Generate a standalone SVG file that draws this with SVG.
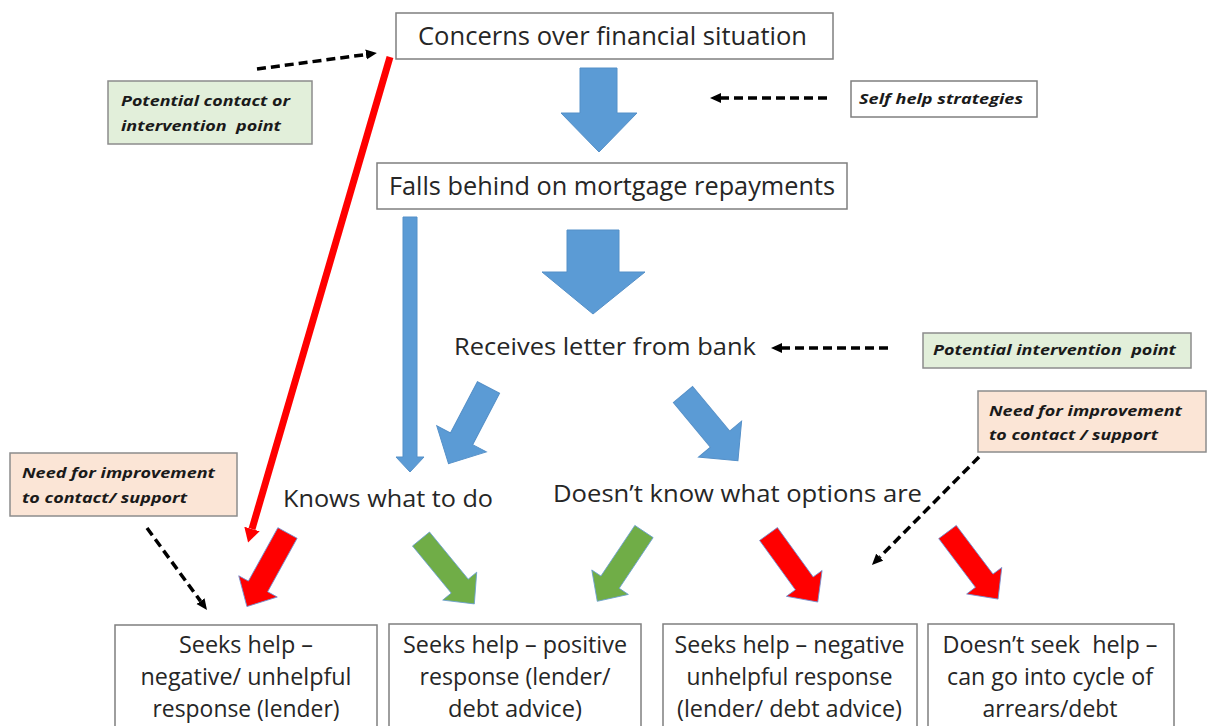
<svg xmlns="http://www.w3.org/2000/svg" width="1213" height="726" viewBox="0 0 1213 726">
<style>
.box{fill:#ffffff;stroke:#7f7f7f;stroke-width:1.5}
.green{fill:#e2efda;stroke:#8c8c8c;stroke-width:1.5}
.peach{fill:#fbe5d6;stroke:#8c8c8c;stroke-width:1.5}
.t{font-family:"Open Sans","Liberation Sans",sans-serif;fill:#262626}
.big{font-size:25px}
.mid{font-size:24px}
.bot{font-size:23px;text-anchor:middle}
.note{font-family:"Open Sans","Liberation Sans",sans-serif;font-size:15px;font-weight:bold;font-style:italic;fill:#1a1a1a}
.blue{fill:#5b9bd5;stroke:#5590c8;stroke-width:1}
.grn{fill:#70ad47;stroke:#6a9fd0;stroke-width:0.8}
.red{fill:#ff0000;stroke:#7090d0;stroke-width:0.8}
.dash{fill:none;stroke:#000;stroke-width:3.5;stroke-dasharray:9 5}
.redline{fill:none;stroke:#ff0000;stroke-width:7}
</style>
<defs>
<marker id="dh" markerUnits="userSpaceOnUse" markerWidth="11" markerHeight="11" refX="0" refY="5" orient="auto" viewBox="0 0 11 10">
<path d="M0,0 L11,5 L0,10 Z" fill="#000"/>
</marker>
<marker id="rh" markerUnits="userSpaceOnUse" markerWidth="14" markerHeight="16" refX="0" refY="8" orient="auto" viewBox="0 0 14 16">
<path d="M0,0 L14,8 L0,16 Z" fill="#ff0000"/>
</marker>
<path id="sa" d="M0,-11 H61 V-22 L84,0 L61,22 V11 H0 Z"/>
<path id="ba" d="M0,-12.5 H58 V-28 L86,0 L58,28 V12.5 H0 Z"/>
</defs>
<rect width="1213" height="726" fill="#ffffff"/>

<g id="connectors">
<polygon class="blue" points="580,68 617,68 617,113 637,113 599,152 561,113 580,113"/>
<polygon class="blue" points="567,230 619,230 619,272 645,272 593,314 542,272 567,272"/>
<polygon class="blue" points="403,217 417,217 417,457 424,457 410,472 396,457 403,457"/>
<use href="#ba" class="blue" transform="translate(488.5,387.5) rotate(117.7)"/>
<use href="#ba" class="blue" transform="translate(683,394.5) rotate(50.3)"/>
<use href="#sa" class="red" transform="translate(287.5,533) rotate(118.9)"/>
<use href="#sa" class="grn" transform="translate(421,539) rotate(50.6)"/>
<use href="#sa" class="grn" transform="translate(644,531.5) rotate(123.8)"/>
<use href="#sa" class="red" transform="translate(768.5,534) rotate(54.1)"/>
<use href="#sa" class="red" transform="translate(947.5,532) rotate(53)"/>
<line class="redline" x1="390" y1="57" x2="252" y2="529" marker-end="url(#rh)"/>
<line class="dash" x1="257" y1="69" x2="366" y2="54.5" marker-end="url(#dh)"/>
<line class="dash" x1="827" y1="98" x2="721" y2="98" marker-end="url(#dh)"/>
<line class="dash" x1="888" y1="348" x2="782" y2="348" marker-end="url(#dh)"/>
<line class="dash" x1="979" y1="457" x2="879.7" y2="557.2" marker-end="url(#dh)"/>
<line class="dash" x1="147" y1="528" x2="200.5" y2="601.1" marker-end="url(#dh)"/>
</g>

<g id="concerns">
<rect class="box" x="396" y="13" width="437" height="46"/>
<text class="t big" x="418" y="45" textLength="389" lengthAdjust="spacingAndGlyphs">Concerns over financial situation</text>
</g>
<g id="falls-behind">
<rect class="box" x="377" y="163" width="470" height="46"/>
<text class="t big" x="389" y="195" textLength="446" lengthAdjust="spacingAndGlyphs">Falls behind on mortgage repayments</text>
</g>
<g id="receives-letter">
<text class="t mid" x="454" y="355" textLength="302" lengthAdjust="spacingAndGlyphs">Receives letter from bank</text>
</g>
<g id="knows">
<text class="t mid" x="283" y="507" textLength="210" lengthAdjust="spacingAndGlyphs">Knows what to do</text>
</g>
<g id="doesnt-know">
<text class="t mid" x="553" y="502" textLength="369" lengthAdjust="spacingAndGlyphs">Doesn’t know what options are</text>
</g>

<g id="note-contact">
<rect class="green" x="108" y="81" width="204" height="63"/>
<text class="note" x="121" y="106" textLength="169" lengthAdjust="spacingAndGlyphs">Potential contact or</text>
<text class="note" x="121" y="131" textLength="160" lengthAdjust="spacingAndGlyphs" xml:space="preserve">intervention  point</text>
</g>
<g id="note-selfhelp">
<rect class="box" x="851" y="81" width="186" height="36"/>
<text class="note" x="859" y="104" textLength="164" lengthAdjust="spacingAndGlyphs">Self help strategies</text>
</g>
<g id="note-intervention">
<rect class="green" x="923" y="333" width="268" height="35"/>
<text class="note" x="933" y="355" textLength="243" lengthAdjust="spacingAndGlyphs" xml:space="preserve">Potential intervention  point</text>
</g>
<g id="note-improve-right">
<rect class="peach" x="978" y="391" width="228" height="61"/>
<text class="note" x="989" y="416" textLength="193" lengthAdjust="spacingAndGlyphs">Need for improvement</text>
<text class="note" x="989" y="440" textLength="169" lengthAdjust="spacingAndGlyphs">to contact / support</text>
</g>
<g id="note-improve-left">
<rect class="peach" x="10" y="453" width="227" height="63"/>
<text class="note" x="22" y="478" textLength="193" lengthAdjust="spacingAndGlyphs">Need for improvement</text>
<text class="note" x="22" y="503" textLength="165" lengthAdjust="spacingAndGlyphs">to contact/ support</text>
</g>

<g id="outcome-negative-lender">
<rect class="box" x="115" y="625" width="262" height="120"/>
<text class="t bot" x="246" y="653" textLength="134" lengthAdjust="spacingAndGlyphs">Seeks help –</text>
<text class="t bot" x="246" y="685" textLength="211" lengthAdjust="spacingAndGlyphs">negative/ unhelpful</text>
<text class="t bot" x="246" y="717" textLength="187" lengthAdjust="spacingAndGlyphs">response (lender)</text>
</g>
<g id="outcome-positive">
<rect class="box" x="389" y="624" width="252" height="120"/>
<text class="t bot" x="515" y="653" textLength="224" lengthAdjust="spacingAndGlyphs">Seeks help – positive</text>
<text class="t bot" x="515" y="685" textLength="191" lengthAdjust="spacingAndGlyphs">response (lender/</text>
<text class="t bot" x="515" y="717" textLength="134" lengthAdjust="spacingAndGlyphs">debt advice)</text>
</g>
<g id="outcome-negative-advice">
<rect class="box" x="663" y="624" width="254" height="120"/>
<text class="t bot" x="789.5" y="653" textLength="230" lengthAdjust="spacingAndGlyphs">Seeks help – negative</text>
<text class="t bot" x="789.5" y="685" textLength="206" lengthAdjust="spacingAndGlyphs">unhelpful response</text>
<text class="t bot" x="789.5" y="717" textLength="225" lengthAdjust="spacingAndGlyphs">(lender/ debt advice)</text>
</g>
<g id="outcome-no-help">
<rect class="box" x="928" y="624" width="246" height="120"/>
<text class="t bot" x="1050" y="653" textLength="215" lengthAdjust="spacingAndGlyphs" xml:space="preserve">Doesn’t seek  help –</text>
<text class="t bot" x="1050" y="685" textLength="206" lengthAdjust="spacingAndGlyphs">can go into cycle of</text>
<text class="t bot" x="1050" y="717" textLength="135" lengthAdjust="spacingAndGlyphs">arrears/debt</text>
</g>
</svg>
